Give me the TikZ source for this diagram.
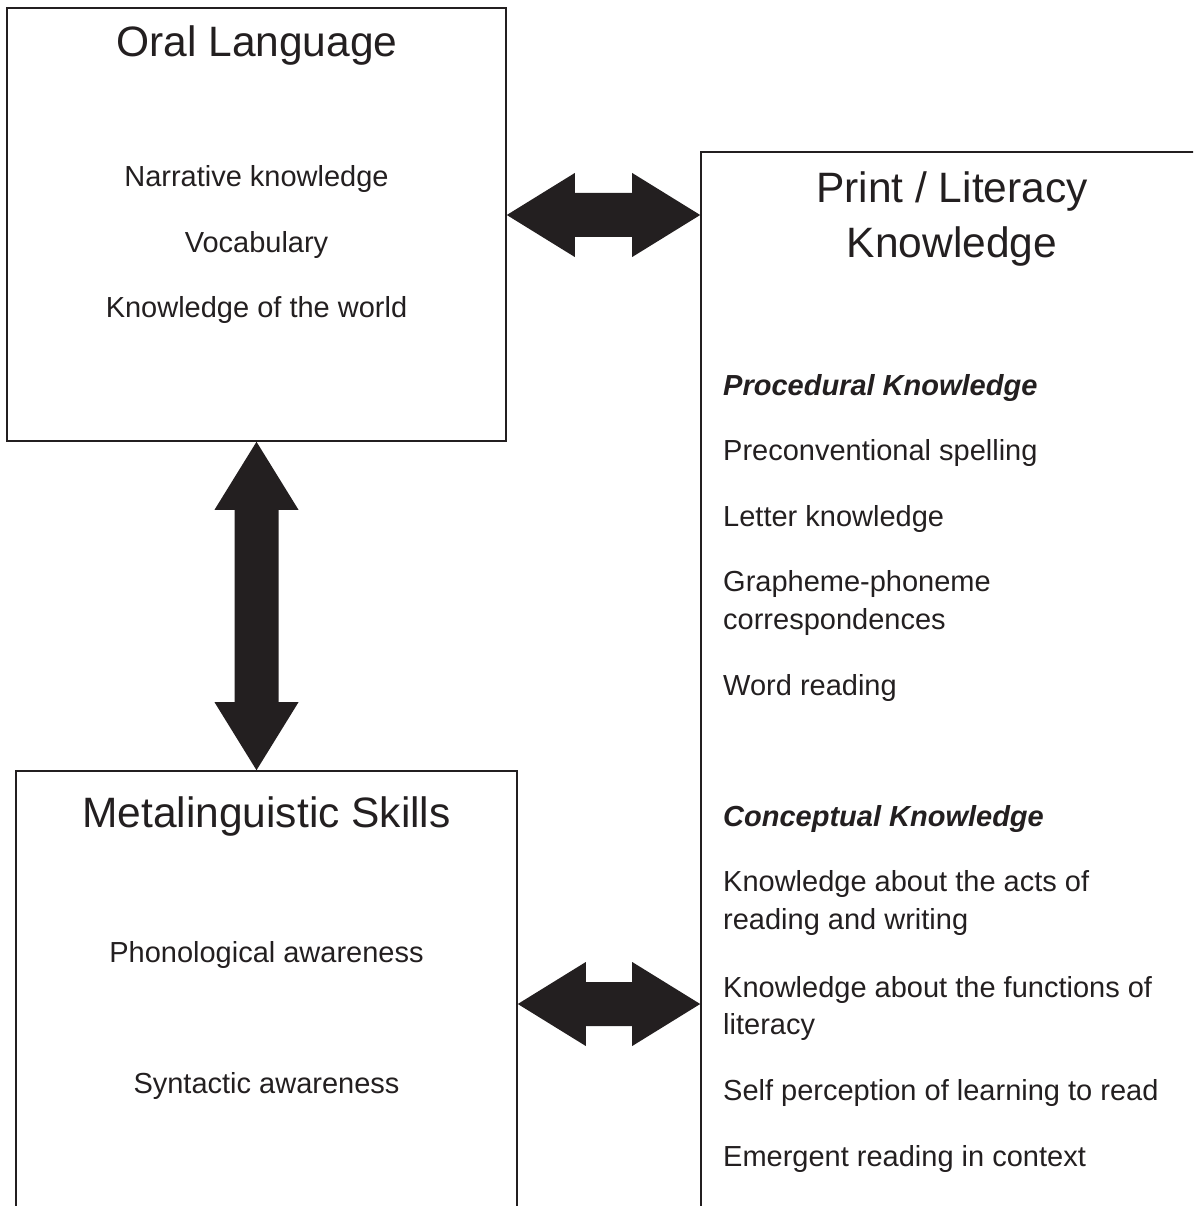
\documentclass[tikz,border=0pt]{standalone}
\usepackage{fontspec}
\setmainfont{Liberation Sans}
\usepackage{xcolor}
\usetikzlibrary{calc}
\definecolor{ink}{RGB}{35,31,32}
% fat two-headed arrow between two points
\newcommand{\fatarrow}[2]{%
  \fill[ink] (#1)
    -- ($(#1)!68pt!(#2)!42pt!90:(#2)$) -- ($(#1)!68pt!(#2)!22pt!90:(#2)$)
    -- ($(#2)!68pt!(#1)!22pt!-90:(#1)$) -- ($(#2)!68pt!(#1)!42pt!-90:(#1)$)
    -- (#2)
    -- ($(#2)!68pt!(#1)!42pt!90:(#1)$) -- ($(#2)!68pt!(#1)!22pt!90:(#1)$)
    -- ($(#1)!68pt!(#2)!22pt!-90:(#2)$) -- ($(#1)!68pt!(#2)!42pt!-90:(#2)$)
    -- cycle;}

\begin{document}
\begin{tikzpicture}[
    x=1pt, y=-1pt,
    box/.style={draw=ink, line width=1.6pt, inner sep=0pt},
    title/.style={font=\fontsize{42.5}{50}\selectfont, text=ink, anchor=base, inner sep=0pt},
    item/.style={font=\fontsize{29}{35}\selectfont, text=ink, anchor=base, inner sep=0pt},
    litem/.style={item, anchor=base west},
    head/.style={litem, font=\fontsize{29}{35}\selectfont\bfseries\itshape},
  ]
  \useasboundingbox (0,0) rectangle (1193,1206);
  \clip (0,0) rectangle (1193,1206);

  % boxes
  \node[box, minimum width=499pt, minimum height=433pt]  (oral)  at (256.5,224.5) {};
  \node[box, minimum width=501pt, minimum height=489pt]  (meta)  at (266.5,1015.5) {};
  \node[box, minimum width=549pt, minimum height=1108pt] (print) at (975.5,706) {};

  % oral language
  \node[title] (oraltitle) at (257,57) {Oral Language};
  \foreach \txt [count=\i] in {Narrative knowledge, Vocabulary, Knowledge of the world}
    \node[item] (oral\i) at (256.5,{122+65*\i}) {\txt};

  % metalinguistic skills
  \node[title] (metatitle) at (266.5,827) {Metalinguistic Skills};
  \node[item] (meta1) at (266.5,962) {Phonological awareness};
  \node[item] (meta2) at (266.5,1093) {Syntactic awareness};

  % print / literacy knowledge
  \node[title] (printtitle1) at (952,203) {Print / Literacy};
  \node[title] (printtitle2) at (952,258) {Knowledge};
  \node[head] (proc) at (723,395) {Procedural Knowledge};
  \foreach \txt/\yy [count=\i] in {Preconventional spelling/460, Letter knowledge/526,
      Grapheme-phoneme/591, correspondences/629, Word reading/695}
    \node[litem] (proc\i) at (723,\yy) {\txt};
  \node[head] (conc) at (723,826) {Conceptual Knowledge};
  \foreach \txt/\yy [count=\i] in {Knowledge about the acts of/891, reading and writing/929,
      Knowledge about the functions of/997, literacy/1034,
      Self perception of learning to read/1100, Emergent reading in context/1166}
    \node[litem] (conc\i) at (723,\yy) {\txt};

  % links
  \coordinate (t1) at (oral.east |- 0,215);
  \coordinate (t2) at (print.west |- 0,215);
  \coordinate (b1) at (meta.east |- 0,1004);
  \coordinate (b2) at (print.west |- 0,1004);
  \coordinate (v1) at (oral.south);
  \coordinate (v2) at (meta.north -| oral.south);
  \fatarrow{t1}{t2}
  \fatarrow{v1}{v2}
  \fatarrow{b1}{b2}
\end{tikzpicture}
\end{document}
